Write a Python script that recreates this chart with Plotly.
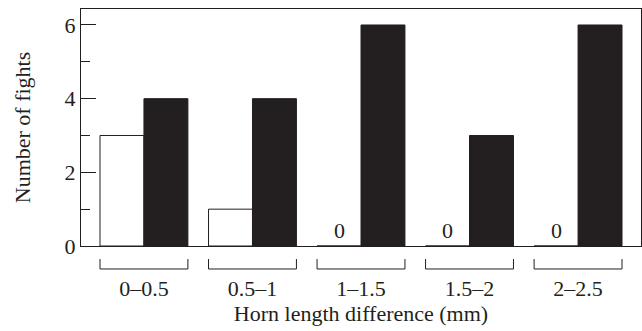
import plotly.graph_objects as go

categories = ["0–0.5", "0.5–1", "1–1.5", "1.5–2", "2–2.5"]
white_values = [3, 1, 0, 0, 0]
black_values = [4, 4, 6, 3, 6]
y_tick_vals = [0, 2, 4, 6]

INK = "#231f20"
FONT = "Liberation Serif"
FS = 22
bargap = 0.19

fig = go.Figure()
fig.add_trace(go.Bar(x=categories, y=white_values, marker=dict(color="white", line=dict(color=INK, width=1)),
                     showlegend=False))
fig.add_trace(go.Bar(x=categories, y=black_values, marker=dict(color=INK, line=dict(color=INK, width=1)),
                     showlegend=False))

half = (1 - bargap) / 2
shapes = []
for i, c in enumerate(categories):
    x0, x1 = i - half, i + half
    shapes.append(dict(type="path", xref="x", yref="paper",
                       path=f"M {x0},-0.055 L {x0},-0.097 L {x1},-0.097 L {x1},-0.055",
                       line=dict(color=INK, width=1)))

annotations = []
for i, v in enumerate(white_values):
    if v == 0:
        annotations.append(dict(x=i - half / 2, y=0, xref="x", yref="y", text="0", showarrow=False,
                                yanchor="bottom", yshift=1, font=dict(family=FONT, size=FS, color=INK)))

fig.update_layout(
    width=642, height=331,
    margin=dict(l=81, r=1, t=9, b=85),
    paper_bgcolor="white", plot_bgcolor="white",
    barmode="group", bargap=bargap, bargroupgap=0,
    font=dict(family=FONT, size=FS, color=INK),
    shapes=shapes, annotations=annotations,
    xaxis=dict(type="category", range=[-0.58, 4.58], showline=True, linecolor=INK, linewidth=1,
               mirror=True, ticks="", showgrid=False, zeroline=False, ticklabelstandoff=23,
               title=dict(text="Horn length difference (mm)", standoff=4,
                          font=dict(family=FONT, size=FS, color=INK)),
               automargin=False),
    yaxis=dict(range=[0, 6.434], tickvals=y_tick_vals, showline=True, linecolor=INK, linewidth=1,
               mirror=True, ticks="inside", ticklen=15, tickcolor=INK, tickwidth=1,
               minor=dict(dtick=1, ticks="inside", ticklen=9, tickcolor=INK, tickwidth=1, showgrid=False),
               showgrid=False, zeroline=False,
               title=dict(text="Number of fights", standoff=27, font=dict(family=FONT, size=FS, color=INK)),
               automargin=False),
)

fig.write_html("out.html", config={"displayModeBar": False},
               post_script="document.body.style.margin='0';document.body.style.overflow='hidden';")
